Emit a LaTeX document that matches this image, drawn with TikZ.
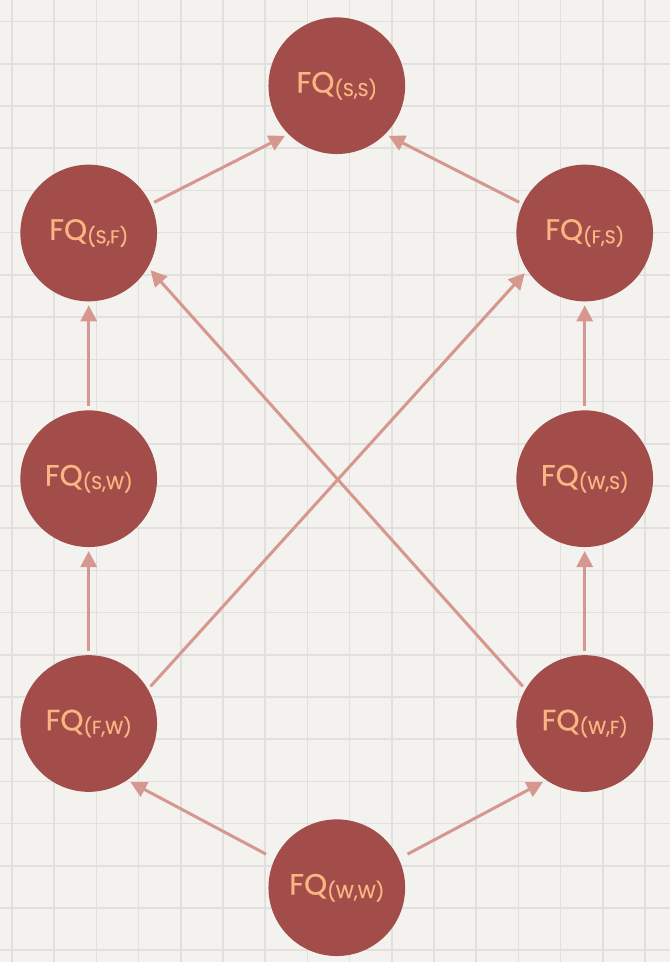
\documentclass[tikz,border=0pt]{standalone}
\usepackage{fontspec}
\setmainfont{Poppins}
\newfontfamily\fqfont{Poppins}[FakeBold=0.6]
\usetikzlibrary{arrows.meta}

\definecolor{paper}{HTML}{F3F2EF}
\definecolor{gridline}{HTML}{E2E0DC}
\definecolor{fqfill}{HTML}{A24D49}
\definecolor{fqtext}{HTML}{FAB682}
\definecolor{fqline}{HTML}{D6978F}

\newcommand{\fq}[1]{FQ\raisebox{-2.6pt}{\fontsize{14}{14}\selectfont(#1)}}

\tikzset{
	fqnode/.style={circle, fill=fqfill, text=fqtext, minimum size=102.5pt, inner sep=0pt, outer sep=0pt, font=\fqfont\fontsize{22}{22}\selectfont},
	fqarrow/.style={draw=fqline, line width=2.25pt, -{Triangle[width=12pt,length=12pt]}, shorten <=3pt, shorten >=3pt}
}

\begin{document}
\begin{tikzpicture}[x=0.75pt,y=-0.75pt]

	% paper
	\useasboundingbox (0,0) rectangle (670,962);
	\fill[paper] (0,0) rectangle (670,962);
	\foreach \i in {0,...,15} {
		\draw[gridline, line width=1.2pt] (12+42.2*\i,0) -- (12+42.2*\i,962);
	}
	\foreach \j in {0,...,22} {
		\draw[gridline, line width=1.2pt] (0,21.7+42.2*\j) -- (670,21.7+42.2*\j);
	}

	% states
	\node[fqnode] (ss) at (336.8,85.7) {\fq{S,S}};
	\node[fqnode] (sf) at (88.7,233) {\fq{S,F}};
	\node[fqnode] (fs) at (584.7,233) {\fq{F,S}};
	\node[fqnode] (sw) at (88.7,478.7) {\fq{S,W}};
	\node[fqnode] (ws) at (584.7,478.7) {\fq{W,S}};
	\node[fqnode] (fw) at (88.7,723.5) {\fq{F,W}};
	\node[fqnode] (wf) at (584.7,723.5) {\fq{W,F}};
	\node[fqnode] (ww) at (336.8,887.7) {\fq{W,W}};

	% transitions
	\draw[fqarrow] (sf.25) -- (ss.225);
	\draw[fqarrow] (fs.155) -- (ss.315);
	\draw[fqarrow] (sw.90) -- (sf.270);
	\draw[fqarrow] (ws.90) -- (fs.270);
	\draw[fqarrow] (fw.90) -- (sw.270);
	\draw[fqarrow] (wf.90) -- (ws.270);
	\draw[fqarrow, shorten <=7.5pt] (ww.155) -- (fw.304);
	\draw[fqarrow, shorten <=7.5pt] (ww.25) -- (wf.236);
	\draw[fqarrow] (fw.30) -- (fs.213);
	\draw[fqarrow] (wf.150) -- (sf.330);

\end{tikzpicture}
\end{document}
